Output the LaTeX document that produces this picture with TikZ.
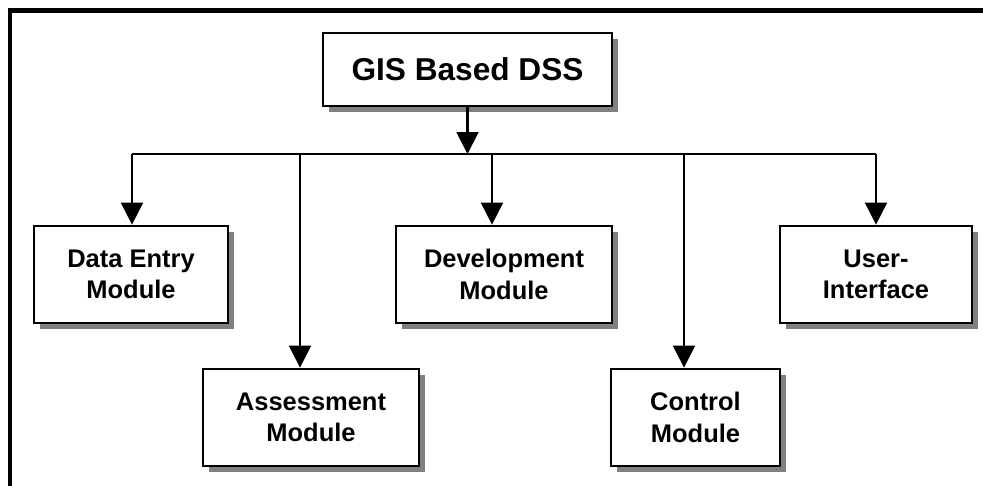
\documentclass[tikz,border=0pt]{standalone}
\usepackage{fontspec}
\setmainfont{Liberation Sans}
\usepackage{xcolor}
\usepackage{tikz}
\usetikzlibrary{arrows.meta,positioning,shadows}
\definecolor{ShadowGray}{HTML}{808080}
\tikzset{
  topbox/.style={
    draw,
    line width=1.6pt,
    fill=white,
    align=center,
    font=\fontsize{18}{21}\selectfont\bfseries,
    minimum width=5.78cm,
    minimum height=1.46cm,
    drop shadow={shadow xshift=3.5pt, shadow yshift=-3.5pt, fill=ShadowGray, opacity=1}
  },
  modbox/.style={
    draw,
    line width=1.6pt,
    fill=white,
    align=center,
    font=\fontsize{14.5}{18}\selectfont\bfseries,
    minimum height=1.94cm,
    inner sep=2pt,
    drop shadow={shadow xshift=3.5pt, shadow yshift=-3.5pt, fill=ShadowGray, opacity=1}
  },
  busline/.style={line width=1.2pt},
  arrow/.style={-{Triangle[length=12.5pt, width=12.5pt]}, line width=1.2pt},
  frame/.style={line width=2.3pt}
}

\begin{document}
\begin{tikzpicture}[x=0.02cm, y=-0.02cm]
  \useasboundingbox (0,0) rectangle (983,486);
  \draw[frame] (983,10.5) -- (10,10.5) -- (10,486);
  \node[topbox] (dss) at (467.5,69.5) {GIS Based DSS};
  \node[modbox, minimum width=3.88cm] (dataentry) at (131,274.5) {Data Entry\\Module};
  \node[modbox, minimum width=4.32cm] (assessment) at (311,417.5) {Assessment\\Module};
  \node[modbox, minimum width=4.32cm] (development) at (504,274.5) {Development\\Module};
  \node[modbox, minimum width=3.38cm] (control) at (695.5,417.5) {Control\\Module};
  \node[modbox, minimum width=3.84cm] (userif) at (876,274.5) {User-\\Interface};
  % bus points
  \coordinate (b1) at (132,154);
  \coordinate (b2) at (300,154);
  \coordinate (b3) at (492,154);
  \coordinate (b4) at (684,154);
  \coordinate (b5) at (876,154);
  \draw[arrow] (dss.south) -- (dss.south |- b1);
  \draw[busline] (b1) -- (b5);
  \draw[arrow] (b1) -- (b1 |- dataentry.north);
  \draw[arrow] (b2) -- (b2 |- assessment.north);
  \draw[arrow] (b3) -- (b3 |- development.north);
  \draw[arrow] (b4) -- (b4 |- control.north);
  \draw[arrow] (b5) -- (b5 |- userif.north);
\end{tikzpicture}
\end{document}
